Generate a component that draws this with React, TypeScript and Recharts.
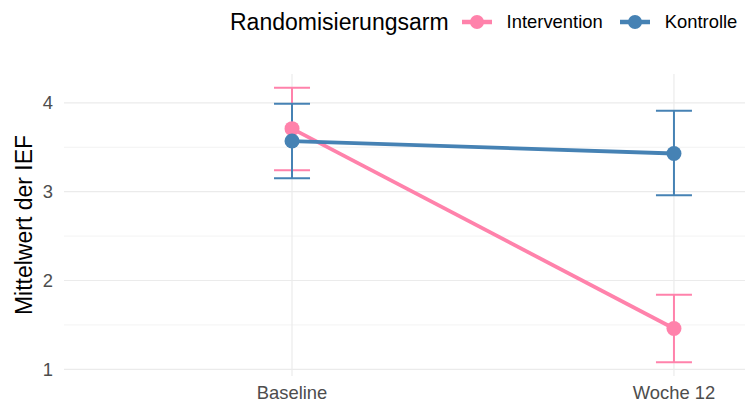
import { ComposedChart, Line, ErrorBar, XAxis, YAxis, CartesianGrid } from 'recharts'

const categories = ['Baseline', 'Woche 12']
const xPos = [1, 2]

const interventionMean = [3.71, 1.46]
const interventionLow = [3.24, 1.08]
const interventionHigh = [4.17, 1.84]

const kontrolleMean = [3.57, 3.43]
const kontrolleLow = [3.15, 2.96]
const kontrolleHigh = [3.99, 3.91]

const yTicks = [1, 2, 3, 4]
const yMinor = [1.5, 2.5, 3.5]

const PINK = '#FF82AB'
const BLUE = '#4682B4'
const FONT = '"Liberation Sans", Arial, Helvetica, sans-serif'

function buildSeries(mean: number[], low: number[], high: number[]) {
  return xPos.map((x, i) => ({
    x,
    y: mean[i],
    err: [mean[i] - low[i], high[i] - mean[i]],
  }))
}

const interventionData = buildSeries(interventionMean, interventionLow, interventionHigh)
const kontrolleData = buildSeries(kontrolleMean, kontrolleLow, kontrolleHigh)

const TICK = { fill: '#4d4d4d', fontSize: 18.4, fontFamily: FONT }

function LegendKey({ color }: { color: string }) {
  return (
    <svg width={30} height={20} style={{ display: 'block' }}>
      <line x1={0} y1={10} x2={30} y2={10} stroke={color} strokeWidth={4.5} />
      <circle cx={15} cy={10} r={7} fill={color} />
    </svg>
  )
}

function YLabel() {
  return (
    <text
      x={0}
      y={0}
      transform="translate(32, 225) rotate(-90)"
      textAnchor="middle"
      fontSize={23}
      fontFamily={FONT}
      fill="#000"
    >
      Mittelwert der IEF
    </text>
  )
}

export default function App() {
  return (
    <div style={{ position: 'absolute', left: 0, top: 0, width: 753, height: 403, background: '#fff', fontFamily: FONT }}>
      {/* legend on top */}
      <div style={{ position: 'absolute', left: 230, top: 8, height: 28, display: 'flex', alignItems: 'center', whiteSpace: 'nowrap' }}>
        <span style={{ fontSize: 23, color: '#000' }}>Randomisierungsarm</span>
        <span style={{ marginLeft: 13 }}><LegendKey color={PINK} /></span>
        <span style={{ marginLeft: 15, fontSize: 18.4, color: '#000' }}>Intervention</span>
        <span style={{ marginLeft: 17 }}><LegendKey color={BLUE} /></span>
        <span style={{ marginLeft: 15, fontSize: 18.4, color: '#000' }}>Kontrolle</span>
      </div>

      <ComposedChart width={753} height={403} margin={{ top: 74, right: 8, bottom: 0, left: 0 }}>
        <CartesianGrid horizontalValues={yMinor} vertical={false} stroke="#f3f3f3" strokeWidth={1} />
        <CartesianGrid horizontalValues={yTicks} verticalValues={xPos} stroke="#ebebeb" strokeWidth={1.2} />
        <XAxis
          type="number"
          dataKey="x"
          domain={[0.403, 2.186]}
          ticks={xPos}
          tickFormatter={(v: number) => categories[v - 1]}
          tick={TICK}
          tickLine={false}
          axisLine={false}
          height={27}
          tickSize={6}
          tickMargin={4}
          allowDataOverflow
        />
        <YAxis
          type="number"
          domain={[0.925, 4.325]}
          ticks={yTicks}
          tick={TICK}
          tickLine={false}
          axisLine={false}
          width={64}
          tickSize={6}
          tickMargin={5}
          label={<YLabel />}
          allowDataOverflow
        />
        <Line
          data={interventionData}
          dataKey="y"
          type="linear"
          stroke={PINK}
          strokeWidth={3.8}
          dot={{ r: 7.5, fill: PINK, stroke: 'none', strokeWidth: 0 }}
          activeDot={false}
          isAnimationActive={false}
        >
          <ErrorBar dataKey="err" direction="y" width={18} stroke={PINK} strokeWidth={2} isAnimationActive={false} />
        </Line>
        <Line
          data={kontrolleData}
          dataKey="y"
          type="linear"
          stroke={BLUE}
          strokeWidth={3.8}
          dot={{ r: 7.5, fill: BLUE, stroke: 'none', strokeWidth: 0 }}
          activeDot={false}
          isAnimationActive={false}
        >
          <ErrorBar dataKey="err" direction="y" width={18} stroke={BLUE} strokeWidth={2} isAnimationActive={false} />
        </Line>
      </ComposedChart>
    </div>
  )
}
